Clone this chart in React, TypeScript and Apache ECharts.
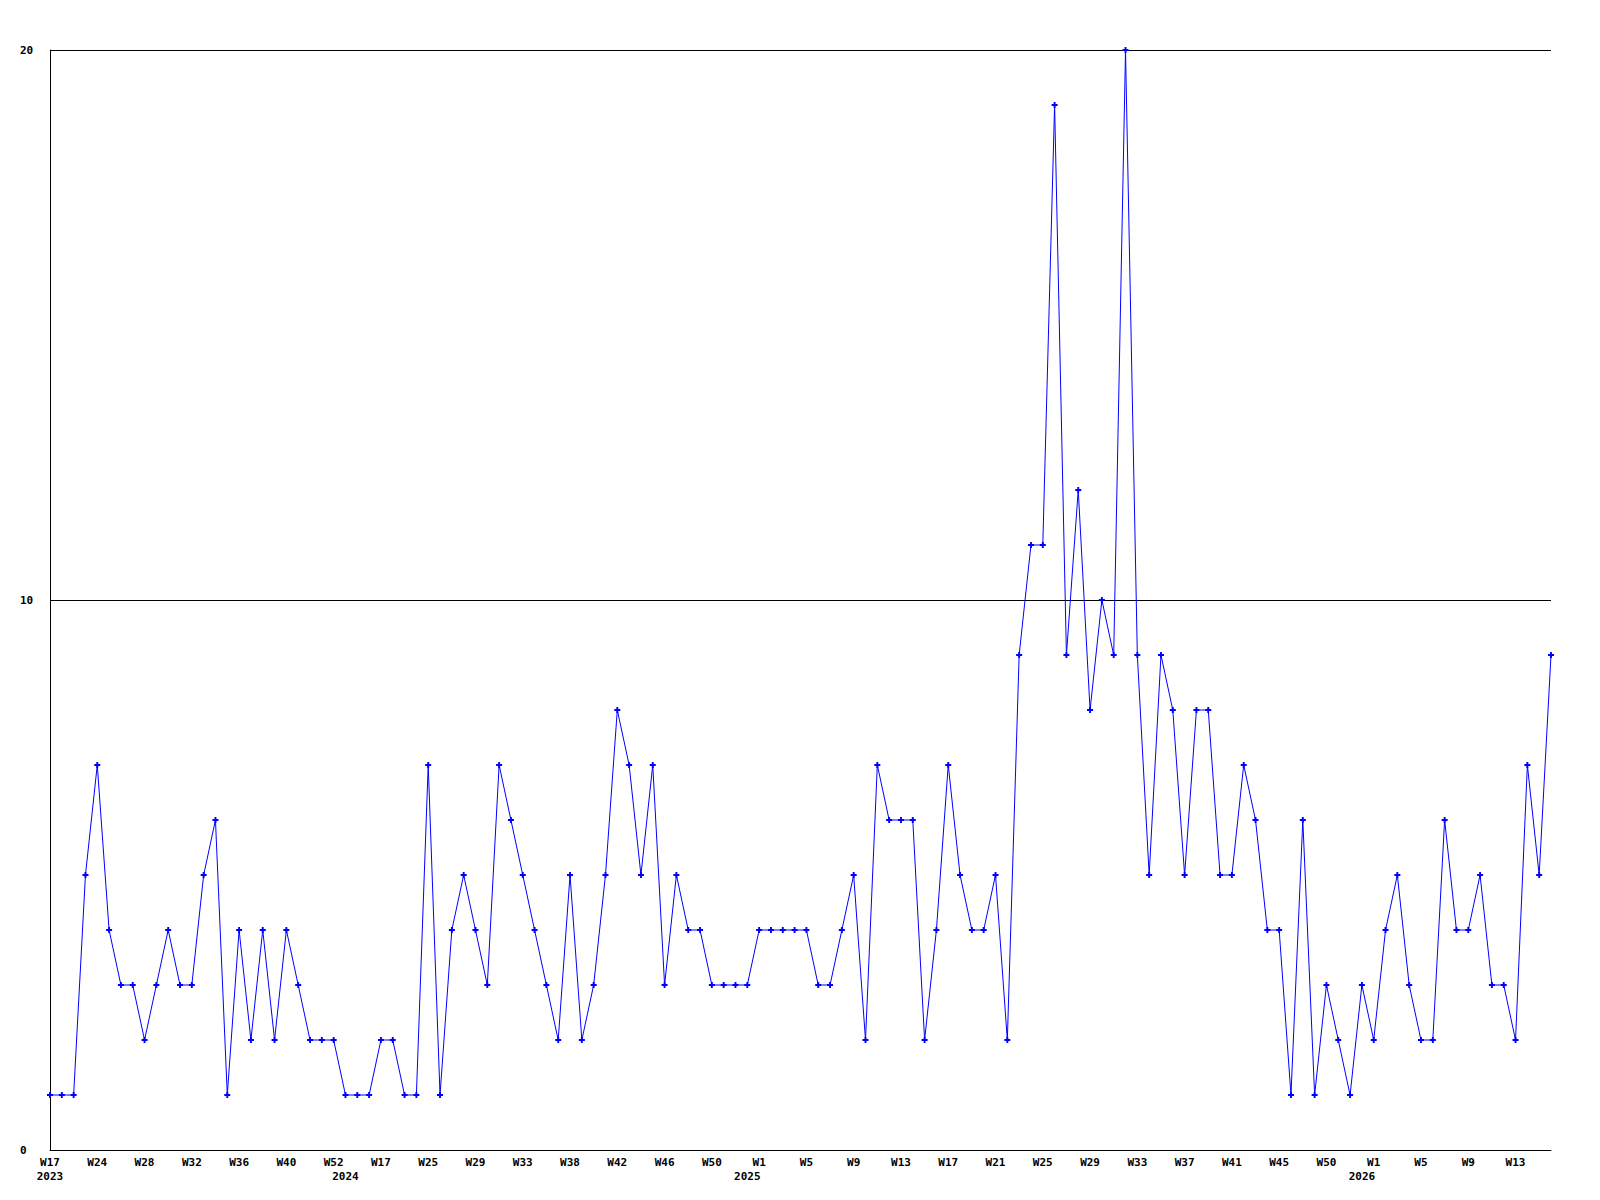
import React, { useEffect, useRef } from "react";
import * as echarts from "echarts";

// Week numbers (as shown on the axis) for each year that has data points
const weeks2023 = [17, 19, 21, 23, 24, 25, 26, 27, 28, 29, 30, 31, 32, 33, 34, 35, 36, 37, 38, 39, 40, 43, 46, 49, 52];
const weeks2024 = [1, 5, 11, 17, 19, 21, 23, 25, 26, 27, 28, 29, 30, 31, 32, 33, 34, 35, 36, 38, 39, 40, 41, 42, 43, 44, 45, 46, 47, 48, 49, 50, 51, 52];
const weeks2025 = [0, 1, 2, 3, 4, 5, 6, 7, 8, 9, 10, 11, 12, 13, 14, 15, 16, 17, 18, 19, 20, 21, 22, 23, 24, 25, 26, 27, 28, 29, 30, 31, 32, 33, 34, 35, 36, 37, 38, 39, 40, 41, 42, 43, 44, 45, 46, 47, 49, 50, 51, 52];
const weeks2026 = [0, 1, 2, 3, 4, 5, 6, 7, 8, 9, 10, 11, 12, 13, 14, 15, 16];

// Weekly counts
const values = [
  1, 1, 1, 5, 7, 4, 3, 3, 2, 3,
  4, 3, 3, 5, 6, 1, 4, 2, 4, 2,
  4, 3, 2, 2, 2, 1, 1, 1, 2, 2,
  1, 1, 7, 1, 4, 5, 4, 3, 7, 6,
  5, 4, 3, 2, 5, 2, 3, 5, 8, 7,
  5, 7, 3, 5, 4, 4, 3, 3, 3, 3,
  4, 4, 4, 4, 4, 3, 3, 4, 5, 2,
  7, 6, 6, 6, 2, 4, 7, 5, 4, 4,
  5, 2, 9, 11, 11, 19, 9, 12, 8, 10,
  9, 20, 9, 5, 9, 8, 5, 8, 8, 5,
  5, 7, 6, 4, 4, 1, 6, 1, 3, 2,
  1, 3, 2, 4, 5, 3, 2, 2, 6, 4,
  4, 5, 3, 3, 2, 7, 5, 9,
];

const yTicks = { min: 0, max: 20, interval: 10 };
const labelEvery = 4;

const yearWeeks: [string, number[]][] = [
  ["2023", weeks2023],
  ["2024", weeks2024],
  ["2025", weeks2025],
  ["2026", weeks2026],
];

const categories: string[] = [];
const catYear: string[] = [];
const catWeek: number[] = [];
yearWeeks.forEach(([y, ws]) => {
  ws.forEach((w) => {
    categories.push(`${y}-W${w}`);
    catYear.push(y);
    catWeek.push(w);
  });
});

const FONT = "'DejaVu Sans Mono', 'Liberation Mono', monospace";

export default function App() {
  const ref = useRef<HTMLDivElement>(null);
  useEffect(() => {
    if (!ref.current) return;
    const chart = echarts.init(ref.current, undefined, { renderer: "svg" });
    chart.setOption({
      animation: false,
      backgroundColor: "#ffffff",
      grid: { left: 50, right: 49, top: 50, bottom: 50, containLabel: false },
      xAxis: {
        type: "category",
        data: categories,
        boundaryGap: false,
        axisLine: { show: true, lineStyle: { color: "#000", width: 1 } },
        axisTick: { show: false },
        splitLine: { show: false },
        axisLabel: {
          interval: 0,
          margin: 5,
          color: "#000",
          fontFamily: FONT,
          fontWeight: "bold",
          fontSize: 11,
          lineHeight: 14,
          formatter: (_v: string, i: number) => {
            const week = i % labelEvery === 0 ? `W${catWeek[i]}` : "";
            const newYear = i === 0 || catYear[i] !== catYear[i - 1];
            const year = newYear ? catYear[i] : "";
            if (!week && !year) return "";
            return year ? `${week}\n${year}` : week;
          },
        },
      },
      yAxis: {
        type: "value",
        min: yTicks.min,
        max: yTicks.max,
        interval: yTicks.interval,
        axisLine: { show: true, lineStyle: { color: "#000", width: 1 } },
        axisTick: { show: false },
        splitLine: { show: true, lineStyle: { color: "#000", width: 1 } },
        axisLabel: {
          align: "left",
          margin: 30,
          color: "#000",
          fontFamily: FONT,
          fontWeight: "bold",
          fontSize: 11,
        },
      },
      series: [
        {
          type: "line",
          data: values,
          symbol: "path://M1.7 0H3.3V1.7H5V3.3H3.3V5H1.7V3.3H0V1.7H1.7Z",
          symbolSize: 6,
          showAllSymbol: true,
          itemStyle: { color: "#0000ff" },
          lineStyle: { color: "#0000ff", width: 1 },
        },
      ],
    });
    return () => chart.dispose();
  }, []);
  return (
    <div
      ref={ref}
      style={{ position: "absolute", left: 0, top: 0, width: 1600, height: 1200, background: "#fff" }}
    />
  );
}
